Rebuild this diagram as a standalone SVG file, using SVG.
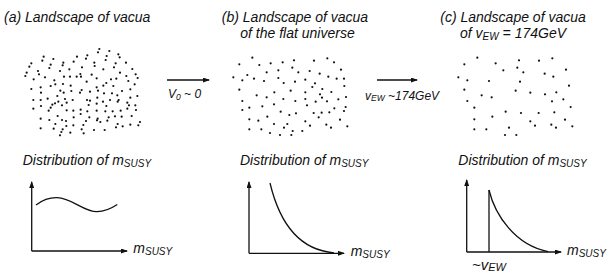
<svg xmlns="http://www.w3.org/2000/svg" width="611" height="279" viewBox="0 0 611 279">
<style>
text{font-family:"Liberation Sans",Arial,sans-serif;font-style:italic;fill:#111;}
.t{font-size:14px;}
.s{font-size:10px;}
.l{font-size:12px;}
.ls{font-size:8.5px;}
.ax{stroke:#111;stroke-width:1.3;fill:none;}
.cv{stroke:#111;stroke-width:1.3;fill:none;}
.dots circle{fill:#111;}
</style>
<defs>
<marker id="ah" markerUnits="userSpaceOnUse" markerWidth="7" markerHeight="5" refX="6" refY="2.5" orient="auto">
<path d="M0,0 L7,2.5 L0,5 z" fill="#111"/>
</marker>
</defs>
<g id="panel-a">
<text class="t" x="4" y="22">(a) Landscape of vacua</text>
<g class="dots" transform="translate(20,40) scale(0.3333)">
<circle cx="238" cy="27" r="3.3"/><circle cx="234" cy="37" r="3.3"/><circle cx="268" cy="33" r="3.3"/><circle cx="295" cy="43" r="3.3"/><circle cx="299" cy="52" r="3.3"/><circle cx="318" cy="68" r="3.3"/><circle cx="260" cy="48" r="3.3"/><circle cx="257" cy="60" r="3.3"/><circle cx="202" cy="46" r="3.3"/><circle cx="198" cy="56" r="3.3"/><circle cx="171" cy="50" r="3.3"/><circle cx="161" cy="65" r="3.3"/><circle cx="130" cy="68" r="3.3"/><circle cx="128" cy="76" r="3.3"/><circle cx="100" cy="57" r="3.3"/><circle cx="71" cy="50" r="3.3"/><circle cx="67" cy="62" r="3.3"/><circle cx="34" cy="70" r="3.3"/><circle cx="28" cy="80" r="3.3"/><circle cx="20" cy="98" r="3.3"/><circle cx="16" cy="108" r="3.3"/><circle cx="54" cy="93" r="3.3"/><circle cx="57" cy="103" r="3.3"/><circle cx="92" cy="74" r="3.3"/><circle cx="88" cy="84" r="3.3"/><circle cx="120" cy="93" r="3.3"/><circle cx="148" cy="88" r="3.3"/><circle cx="186" cy="82" r="3.3"/><circle cx="181" cy="102" r="3.3"/><circle cx="223" cy="68" r="3.3"/><circle cx="224" cy="78" r="3.3"/><circle cx="250" cy="88" r="3.3"/><circle cx="282" cy="82" r="3.3"/><circle cx="287" cy="70" r="3.3"/><circle cx="337" cy="87" r="3.3"/><circle cx="300" cy="98" r="3.3"/><circle cx="319" cy="108" r="3.3"/><circle cx="347" cy="103" r="3.3"/><circle cx="41" cy="118" r="3.3"/><circle cx="75" cy="112" r="3.3"/><circle cx="106" cy="133" r="3.3"/><circle cx="103" cy="121" r="3.3"/><circle cx="132" cy="110" r="3.3"/><circle cx="150" cy="110" r="3.3"/><circle cx="170" cy="110" r="3.3"/><circle cx="183" cy="110" r="3.3"/><circle cx="215" cy="104" r="3.3"/><circle cx="230" cy="115" r="3.3"/><circle cx="259" cy="129" r="3.3"/><circle cx="273" cy="118" r="3.3"/><circle cx="289" cy="116" r="3.3"/><circle cx="325" cy="123" r="3.3"/><circle cx="353" cy="114" r="3.3"/><circle cx="344" cy="133" r="3.3"/><circle cx="34" cy="147" r="3.3"/><circle cx="62" cy="142" r="3.3"/><circle cx="63" cy="158" r="3.3"/><circle cx="92" cy="138" r="3.3"/><circle cx="129" cy="132" r="3.3"/><circle cx="152" cy="137" r="3.3"/><circle cx="200" cy="125" r="3.3"/><circle cx="230" cy="142" r="3.3"/><circle cx="250" cy="137" r="3.3"/><circle cx="280" cy="138" r="3.3"/><circle cx="306" cy="153" r="3.3"/><circle cx="331" cy="148" r="3.3"/><circle cx="121" cy="152" r="3.3"/><circle cx="131" cy="158" r="3.3"/><circle cx="154" cy="153" r="3.3"/><circle cx="180" cy="158" r="3.3"/><circle cx="185" cy="150" r="3.3"/><circle cx="210" cy="155" r="3.3"/><circle cx="234" cy="152" r="3.3"/><circle cx="252" cy="160" r="3.3"/><circle cx="276" cy="160" r="3.3"/><circle cx="292" cy="166" r="3.3"/><circle cx="352" cy="168" r="3.3"/><circle cx="112" cy="168" r="3.3"/><circle cx="135" cy="177" r="3.3"/><circle cx="158" cy="180" r="3.3"/><circle cx="201" cy="180" r="3.3"/><circle cx="210" cy="182" r="3.3"/><circle cx="232" cy="173" r="3.3"/><circle cx="249" cy="185" r="3.3"/><circle cx="270" cy="180" r="3.3"/><circle cx="296" cy="180" r="3.3"/><circle cx="331" cy="173" r="3.3"/><circle cx="40" cy="180" r="3.3"/><circle cx="62" cy="180" r="3.3"/><circle cx="83" cy="176" r="3.3"/><circle cx="115" cy="185" r="3.3"/><circle cx="140" cy="188" r="3.3"/><circle cx="206" cy="195" r="3.3"/><circle cx="230" cy="191" r="3.3"/><circle cx="259" cy="198" r="3.3"/><circle cx="293" cy="185" r="3.3"/><circle cx="322" cy="188" r="3.3"/><circle cx="327" cy="196" r="3.3"/><circle cx="346" cy="196" r="3.3"/><circle cx="40" cy="206" r="3.3"/><circle cx="63" cy="198" r="3.3"/><circle cx="92" cy="203" r="3.3"/><circle cx="86" cy="212" r="3.3"/><circle cx="97" cy="194" r="3.3"/><circle cx="105" cy="190" r="3.3"/><circle cx="126" cy="196" r="3.3"/><circle cx="140" cy="211" r="3.3"/><circle cx="160" cy="212" r="3.3"/><circle cx="182" cy="209" r="3.3"/><circle cx="202" cy="214" r="3.3"/><circle cx="230" cy="212" r="3.3"/><circle cx="256" cy="214" r="3.3"/><circle cx="278" cy="214" r="3.3"/><circle cx="302" cy="212" r="3.3"/><circle cx="322" cy="206" r="3.3"/><circle cx="348" cy="210" r="3.3"/><circle cx="113" cy="228" r="3.3"/><circle cx="126" cy="240" r="3.3"/><circle cx="161" cy="232" r="3.3"/><circle cx="182" cy="222" r="3.3"/><circle cx="208" cy="232" r="3.3"/><circle cx="233" cy="236" r="3.3"/><circle cx="266" cy="232" r="3.3"/><circle cx="285" cy="229" r="3.3"/><circle cx="305" cy="230" r="3.3"/><circle cx="335" cy="228" r="3.3"/><circle cx="360" cy="246" r="3.3"/><circle cx="355" cy="256" r="3.3"/><circle cx="62" cy="236" r="3.3"/><circle cx="88" cy="240" r="3.3"/><circle cx="106" cy="252" r="3.3"/><circle cx="101" cy="266" r="3.3"/><circle cx="138" cy="243" r="3.3"/><circle cx="139" cy="258" r="3.3"/><circle cx="160" cy="256" r="3.3"/><circle cx="190" cy="255" r="3.3"/><circle cx="198" cy="243" r="3.3"/><circle cx="231" cy="241" r="3.3"/><circle cx="241" cy="246" r="3.3"/><circle cx="262" cy="242" r="3.3"/><circle cx="293" cy="252" r="3.3"/><circle cx="308" cy="259" r="3.3"/><circle cx="331" cy="254" r="3.3"/><circle cx="128" cy="268" r="3.3"/><circle cx="124" cy="276" r="3.3"/><circle cx="120" cy="286" r="3.3"/><circle cx="151" cy="278" r="3.3"/><circle cx="185" cy="268" r="3.3"/><circle cx="191" cy="280" r="3.3"/><circle cx="222" cy="270" r="3.3"/><circle cx="254" cy="270" r="3.3"/><circle cx="62" cy="265" r="3.3"/><circle cx="288" cy="262" r="3.3"/>
</g>
</g>
<g id="plot-a">
<text class="t" x="22.7" y="165">Distribution of m<tspan class="s" dy="2">SUSY</tspan></text>
<path class="ax" d="M31.7,251 V182" marker-end="url(#ah)"/>
<path class="ax" d="M31.7,251 H127" marker-end="url(#ah)"/>
<path class="cv" d="M36,205 C44,199 50,197.5 57,197.7 C72,198 84,212 97,211.7 C106,211.5 112,208 117.3,204.5"/>
<text class="t" x="133.3" y="253">m<tspan class="s" dy="2">SUSY</tspan></text>
</g>
<g id="panel-b">
<text class="t" x="295" y="22" text-anchor="middle">(b) Landscape of vacua</text>
<text class="t" x="297.5" y="38" text-anchor="middle">of the flat universe</text>
<g class="dots" transform="translate(225,45) scale(0.3333)">
<circle cx="82" cy="38" r="3.3"/><circle cx="43" cy="58" r="3.3"/><circle cx="103" cy="60" r="3.3"/><circle cx="137" cy="55" r="3.3"/><circle cx="173" cy="52" r="3.3"/><circle cx="207" cy="46" r="3.3"/><circle cx="267" cy="47" r="3.3"/><circle cx="307" cy="40" r="3.3"/><circle cx="327" cy="52" r="3.3"/><circle cx="348" cy="74" r="3.3"/><circle cx="125" cy="82" r="3.3"/><circle cx="160" cy="76" r="3.3"/><circle cx="202" cy="68" r="3.3"/><circle cx="220" cy="82" r="3.3"/><circle cx="254" cy="78" r="3.3"/><circle cx="284" cy="86" r="3.3"/><circle cx="25" cy="97" r="3.3"/><circle cx="52" cy="106" r="3.3"/><circle cx="67" cy="90" r="3.3"/><circle cx="87" cy="101" r="3.3"/><circle cx="117" cy="108" r="3.3"/><circle cx="160" cy="99" r="3.3"/><circle cx="176" cy="114" r="3.3"/><circle cx="210" cy="110" r="3.3"/><circle cx="241" cy="104" r="3.3"/><circle cx="270" cy="115" r="3.3"/><circle cx="262" cy="126" r="3.3"/><circle cx="310" cy="95" r="3.3"/><circle cx="335" cy="101" r="3.3"/><circle cx="357" cy="101" r="3.3"/><circle cx="358" cy="123" r="3.3"/><circle cx="43" cy="134" r="3.3"/><circle cx="148" cy="142" r="3.3"/><circle cx="197" cy="137" r="3.3"/><circle cx="241" cy="142" r="3.3"/><circle cx="292" cy="132" r="3.3"/><circle cx="319" cy="141" r="3.3"/><circle cx="95" cy="151" r="3.3"/><circle cx="125" cy="157" r="3.3"/><circle cx="175" cy="162" r="3.3"/><circle cx="241" cy="162" r="3.3"/><circle cx="285" cy="148" r="3.3"/><circle cx="291" cy="158" r="3.3"/><circle cx="272" cy="170" r="3.3"/><circle cx="306" cy="169" r="3.3"/><circle cx="340" cy="163" r="3.3"/><circle cx="363" cy="156" r="3.3"/><circle cx="52" cy="168" r="3.3"/><circle cx="211" cy="168" r="3.3"/><circle cx="246" cy="181" r="3.3"/><circle cx="73" cy="188" r="3.3"/><circle cx="112" cy="184" r="3.3"/><circle cx="147" cy="178" r="3.3"/><circle cx="52" cy="195" r="3.3"/><circle cx="167" cy="200" r="3.3"/><circle cx="213" cy="205" r="3.3"/><circle cx="193" cy="210" r="3.3"/><circle cx="266" cy="204" r="3.3"/><circle cx="290" cy="203" r="3.3"/><circle cx="313" cy="202" r="3.3"/><circle cx="328" cy="190" r="3.3"/><circle cx="357" cy="198" r="3.3"/><circle cx="362" cy="186" r="3.3"/><circle cx="127" cy="215" r="3.3"/><circle cx="73" cy="223" r="3.3"/><circle cx="100" cy="227" r="3.3"/><circle cx="147" cy="237" r="3.3"/><circle cx="187" cy="237" r="3.3"/><circle cx="241" cy="229" r="3.3"/><circle cx="281" cy="217" r="3.3"/><circle cx="345" cy="224" r="3.3"/><circle cx="255" cy="242" r="3.3"/><circle cx="304" cy="239" r="3.3"/><circle cx="318" cy="248" r="3.3"/><circle cx="367" cy="244" r="3.3"/><circle cx="73" cy="253" r="3.3"/><circle cx="109" cy="253" r="3.3"/><circle cx="135" cy="264" r="3.3"/><circle cx="165" cy="270" r="3.3"/><circle cx="177" cy="248" r="3.3"/><circle cx="199" cy="270" r="3.3"/><circle cx="203" cy="258" r="3.3"/><circle cx="232" cy="258" r="3.3"/>
</g>
</g>
<g id="plot-b">
<text class="t" x="240" y="165">Distribution of m<tspan class="s" dy="2">SUSY</tspan></text>
<path class="ax" d="M249,253.3 V182" marker-end="url(#ah)"/>
<path class="ax" d="M249,253.3 H344" marker-end="url(#ah)"/>
<path class="cv" d="M270,183 C280,225 300,250 334,252.8"/>
<text class="t" x="350.7" y="256">m<tspan class="s" dy="2">SUSY</tspan></text>
</g>
<g id="panel-c">
<text class="t" x="513" y="22" text-anchor="middle">(c) Landscape of vacua</text>
<text class="t" x="513" y="38" text-anchor="middle">of v<tspan class="s" dy="2">EW</tspan><tspan dy="-2"> = 174GeV</tspan></text>
<g class="dots" transform="translate(450,45) scale(0.3333)">
<circle cx="82" cy="38" r="3.3"/><circle cx="43" cy="58" r="3.3"/><circle cx="137" cy="55" r="3.3"/><circle cx="207" cy="46" r="3.3"/><circle cx="267" cy="47" r="3.3"/><circle cx="307" cy="40" r="3.3"/><circle cx="160" cy="76" r="3.3"/><circle cx="202" cy="68" r="3.3"/><circle cx="220" cy="82" r="3.3"/><circle cx="284" cy="86" r="3.3"/><circle cx="348" cy="74" r="3.3"/><circle cx="25" cy="97" r="3.3"/><circle cx="52" cy="106" r="3.3"/><circle cx="117" cy="108" r="3.3"/><circle cx="210" cy="110" r="3.3"/><circle cx="310" cy="95" r="3.3"/><circle cx="357" cy="122" r="3.3"/><circle cx="43" cy="134" r="3.3"/><circle cx="197" cy="137" r="3.3"/><circle cx="241" cy="143" r="3.3"/><circle cx="285" cy="148" r="3.3"/><circle cx="319" cy="142" r="3.3"/><circle cx="95" cy="151" r="3.3"/><circle cx="125" cy="157" r="3.3"/><circle cx="340" cy="163" r="3.3"/><circle cx="306" cy="169" r="3.3"/><circle cx="52" cy="168" r="3.3"/><circle cx="362" cy="186" r="3.3"/><circle cx="73" cy="188" r="3.3"/><circle cx="167" cy="200" r="3.3"/><circle cx="213" cy="204" r="3.3"/><circle cx="266" cy="204" r="3.3"/><circle cx="313" cy="202" r="3.3"/><circle cx="127" cy="215" r="3.3"/><circle cx="73" cy="223" r="3.3"/><circle cx="241" cy="229" r="3.3"/><circle cx="345" cy="224" r="3.3"/><circle cx="255" cy="242" r="3.3"/><circle cx="304" cy="239" r="3.3"/><circle cx="318" cy="248" r="3.3"/><circle cx="367" cy="244" r="3.3"/><circle cx="73" cy="253" r="3.3"/><circle cx="109" cy="253" r="3.3"/><circle cx="177" cy="248" r="3.3"/><circle cx="165" cy="270" r="3.3"/><circle cx="199" cy="270" r="3.3"/>
</g>
</g>
<g id="plot-c">
<text class="t" x="458.3" y="165">Distribution of m<tspan class="s" dy="2">SUSY</tspan></text>
<path class="ax" d="M466.7,252 V180" marker-end="url(#ah)"/>
<path class="ax" d="M466.7,252 H561" marker-end="url(#ah)"/>
<path class="ax" d="M489,252 V190"/>
<path class="cv" d="M489,190 C495,215 515,245 548,251.6"/>
<text class="t" x="567" y="255">m<tspan class="s" dy="2">SUSY</tspan></text>
<text x="472" y="270" style="font-size:15px">~v<tspan style="font-size:11px" dy="1">EW</tspan></text>
</g>
<g id="connectors">
<path class="ax" d="M167,80 H209" marker-end="url(#ah)"/>
<text class="l" x="168" y="98">V<tspan class="ls" dy="2">0</tspan><tspan dy="-2"> ~ 0</tspan></text>
<path class="ax" d="M377,80 H417" marker-end="url(#ah)"/>
<text class="l" x="365" y="99.5">v<tspan class="ls" dy="1">EW</tspan><tspan dy="-1"> ~174GeV</tspan></text>
</g>
</svg>
